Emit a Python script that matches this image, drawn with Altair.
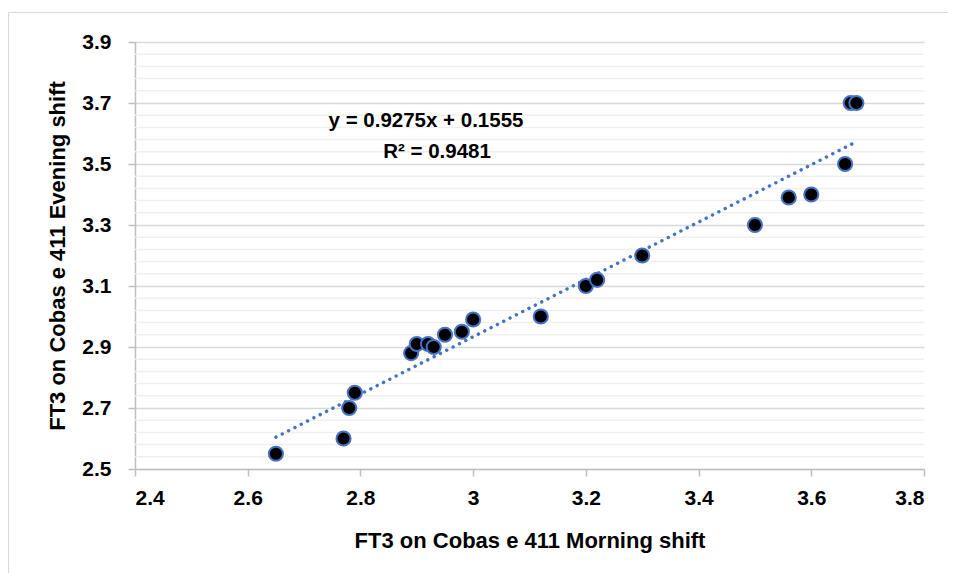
import altair as alt
import pandas as pd

# Data
morning = [2.65, 2.77, 2.78, 2.79, 2.89, 2.90, 2.92, 2.93, 2.95, 2.98, 3.00,
           3.12, 3.20, 3.22, 3.30, 3.50, 3.56, 3.60, 3.66, 3.67, 3.68]
evening = [2.55, 2.60, 2.70, 2.75, 2.88, 2.91, 2.91, 2.90, 2.94, 2.95, 2.99,
           3.00, 3.10, 3.12, 3.20, 3.30, 3.39, 3.40, 3.50, 3.70, 3.70]

x_ticks = [2.4, 2.6, 2.8, 3.0, 3.2, 3.4, 3.6, 3.8]
y_ticks = [2.5, 2.7, 2.9, 3.1, 3.3, 3.5, 3.7, 3.9]
minor_grid = [round(2.5 + 0.04 * i, 2) for i in range(36) if i % 5 != 0]

equation_text = "y = 0.9275x + 0.1555"
r2_text = "R² = 0.9481"
x_title = "FT3 on Cobas e 411 Morning shift"
y_title = "FT3 on Cobas e 411 Evening shift"

FONT = "Liberation Sans Narrow, Arial Narrow, Liberation Sans, Arial"
BLUE = "#4472C4"
FRAME = "#d9d9d9"

df = pd.DataFrame({"morning": morning, "evening": evening})
minor_df = pd.DataFrame({"v": minor_grid})

xscale = alt.Scale(domain=[2.4, 3.8], nice=False, zero=False)
yscale = alt.Scale(domain=[2.5, 3.9], nice=False, zero=False)

x_enc = alt.X("morning:Q", scale=xscale, title=x_title,
              axis=alt.Axis(values=x_ticks, format=".1~f", grid=False,
                            domainColor="#bfbfbf", domainWidth=1.5,
                            tickColor="#bfbfbf", tickWidth=1.5, tickSize=7,
                            labelFont=FONT, labelFontSize=21, labelFontWeight="bold",
                            labelColor="black", labelPadding=11,
                            titleFont=FONT, titleFontSize=22, titleFontWeight="bold",
                            titleColor="black", titlePadding=22))
y_enc = alt.Y("evening:Q", scale=yscale, title=y_title,
              axis=alt.Axis(values=y_ticks, format=".1f", grid=True,
                            gridColor="#d9d9d9", gridWidth=1.5,
                            domainColor="#bfbfbf", domainWidth=1.5,
                            tickColor="#bfbfbf", tickWidth=1.5, tickSize=7,
                            labelFont=FONT, labelFontSize=21, labelFontWeight="bold",
                            labelColor="black", labelPadding=17,
                            titleFont=FONT, titleFontSize=22, titleFontWeight="bold",
                            titleColor="black", titlePadding=12))

frame_top = alt.Chart(alt.Data(values=[{}])).mark_rule(color=FRAME, strokeWidth=1.2).encode(
    x=alt.value(-126.5), x2=alt.value(813), y=alt.value(-29.5))
frame_left = alt.Chart(alt.Data(values=[{}])).mark_rule(color=FRAME, strokeWidth=1.2).encode(
    x=alt.value(-126.5), y=alt.value(-29.5), y2=alt.value(532))

minor = alt.Chart(minor_df).mark_rule(color="#efefef", strokeWidth=1.5).encode(
    y=alt.Y("v:Q", scale=yscale)
)

points = alt.Chart(df).mark_circle(
    fill="black", stroke=BLUE, strokeWidth=2, size=200, opacity=1, fillOpacity=1
).encode(x=x_enc, y=y_enc)

trend = alt.Chart(df).transform_regression("morning", "evening").mark_line(
    color=BLUE, strokeWidth=3.4, strokeDash=[0.1, 7], strokeCap="round"
).encode(x=alt.X("morning:Q", scale=xscale), y=alt.Y("evening:Q", scale=yscale))

eq = alt.Chart(alt.Data(values=[{"t": equation_text}])).mark_text(
    font=FONT, fontSize=20.5, fontWeight="bold", color="black", align="center", baseline="middle"
).encode(text="t:N", x=alt.value(291), y=alt.value(79))

r2 = alt.Chart(alt.Data(values=[{"t": r2_text}])).mark_text(
    font=FONT, fontSize=20.5, fontWeight="bold", color="black", align="center", baseline="middle"
).encode(text="t:N", x=alt.value(302), y=alt.value(110))

chart = alt.layer(frame_top, frame_left, minor, trend, points, eq, r2).properties(
    width=789, height=427,
    autosize=alt.AutoSizeParams(type="none"),
    padding={"left": 127, "top": 34, "right": 24, "bottom": 104},
).configure_view(stroke=None)

chart.save("out.html", embed_options={"renderer": "svg", "actions": False})
